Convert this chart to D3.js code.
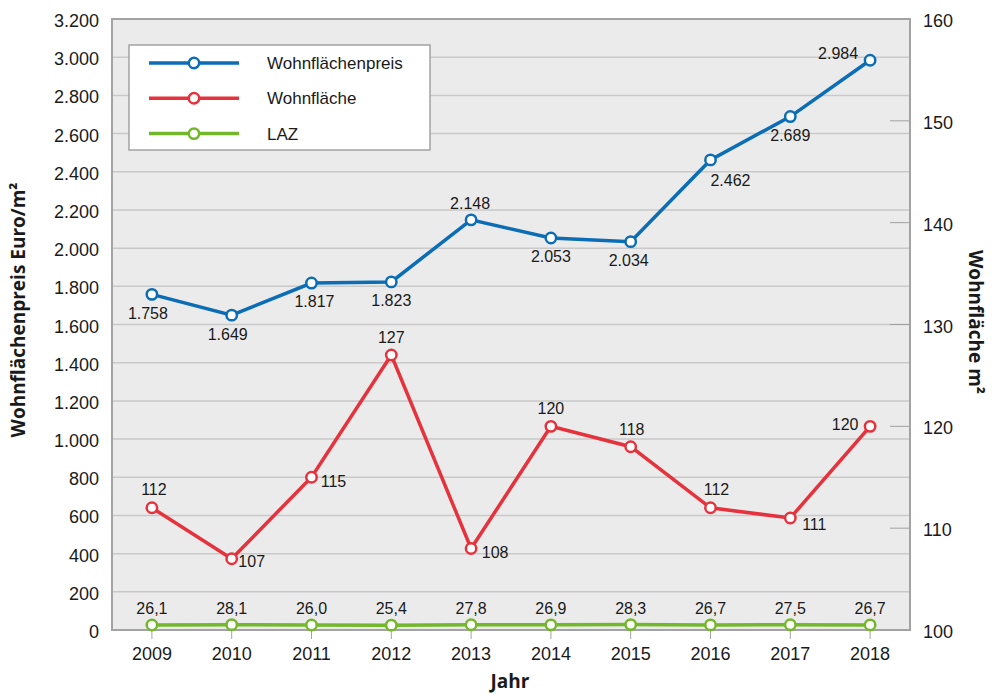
<!DOCTYPE html>
<html>
<head>
<meta charset="utf-8">
<script src="https://cdn.jsdelivr.net/npm/d3@7"></script>
<style>
  body { margin: 0; background: #fff; }
  text { font-family: "Liberation Sans", Arial, sans-serif; fill: #1a1a1a; }
  .title { font-family: "Open Sans", sans-serif; font-weight: bold; font-size: 19px; }
</style>
</head>
<body>
<div id="chart"></div>
<script>
(() => {

  let years = [2009, 2010, 2011, 2012, 2013, 2014, 2015, 2016, 2017, 2018]
  let preis = [1758, 1649, 1817, 1823, 2148, 2053, 2034, 2462, 2689, 2984]
  let flaeche = [112, 107, 115, 127, 108, 120, 118, 112, 111, 120]
  let laz = [26.1, 28.1, 26.0, 25.4, 27.8, 26.9, 28.3, 26.7, 27.5, 26.7]
  let leftTicks = d3.range(0, 3201, 200)
  let rightTicks = [100, 110, 120, 130, 140, 150, 160]

  // label placement per point: [dx, dy] of label centre
  let preisPos = [[-4,19],[-4,19],[3,18],[0,18],[-1,-17],[0,18],[-2,18],[20,20],[0,18],[-32,-7]]
  let flaechePos = [[2,-19],[20,2],[22,4],[0,-18],[24,3],[0,-18],[1,-18],[6,-19],[24,6],[-25,-2]]

  let svg = d3.select("#chart")
  .append("svg")
  .attr("width", 996)
  .attr("height", 695)

  let margin = {top: 19, right: 86, bottom: 65, left: 112}
  let width = 996 - margin.left - margin.right
  let height = 695 - margin.top - margin.bottom

  let x = d3.scalePoint()
  .domain(years)
  .range([margin.left, margin.left + width])
  .padding(0.5)

  let yL = d3.scaleLinear()
  .domain([0, 3200])
  .range([margin.top + height, margin.top])

  let yR = d3.scaleLinear()
  .domain([100, 160])
  .range([margin.top + height, margin.top])

  let fmtDE = d3.formatLocale({decimal: ",", thousands: ".", grouping: [3], currency: ["", "€"]})
  let fmtInt = fmtDE.format(",d")
  let fmt1 = fmtDE.format(".1f")

  // plot background
  svg.append("rect")
  .attr("x", margin.left)
  .attr("y", margin.top)
  .attr("width", width)
  .attr("height", height)
  .attr("fill", "#ebebeb")

  // grid
  svg.append("g")
  .selectAll("line")
  .data(leftTicks.slice(1, -1))
  .enter()
  .append("line")
  .attr("x1", margin.left)
  .attr("x2", margin.left + width)
  .attr("y1", d => yL(d))
  .attr("y2", d => yL(d))
  .attr("stroke", "#c9c9c9")
  .attr("stroke-width", 1.5)

  // right ticks inside plot
  svg.append("g")
  .selectAll("line")
  .data(rightTicks.slice(1, -1))
  .enter()
  .append("line")
  .attr("x1", margin.left + width - 20)
  .attr("x2", margin.left + width)
  .attr("y1", d => yR(d))
  .attr("y2", d => yR(d))
  .attr("stroke", "#a0a0a0")
  .attr("stroke-width", 1)

  // frame
  svg.append("rect")
  .attr("x", margin.left)
  .attr("y", margin.top)
  .attr("width", width)
  .attr("height", height)
  .attr("fill", "none")
  .attr("stroke", "#a3a3a3")
  .attr("stroke-width", 2)

  // left labels
  svg.append("g")
  .selectAll("text")
  .data(leftTicks)
  .enter()
  .append("text")
  .attr("x", 99)
  .attr("y", d => yL(d) + 8)
  .attr("text-anchor", "end")
  .style("font-size", "18px")
  .text(d => fmtInt(d))

  // right labels
  svg.append("g")
  .selectAll("text")
  .data(rightTicks)
  .enter()
  .append("text")
  .attr("x", 923)
  .attr("y", d => yR(d) + 8)
  .style("font-size", "18px")
  .text(d => d)

  // x ticks + labels
  svg.append("g")
  .selectAll("line")
  .data(years)
  .enter()
  .append("line")
  .attr("x1", d => x(d))
  .attr("x2", d => x(d))
  .attr("y1", margin.top + height + 1)
  .attr("y2", margin.top + height + 9)
  .attr("stroke", "#a3a3a3")
  .attr("stroke-width", 1)

  svg.append("g")
  .selectAll("text")
  .data(years)
  .enter()
  .append("text")
  .attr("x", d => x(d))
  .attr("y", margin.top + height + 30)
  .attr("text-anchor", "middle")
  .style("font-size", "18px")
  .text(d => d)

  // axis titles
  svg.append("text")
  .attr("class", "title")
  .attr("transform", "translate(25,310) rotate(-90)")
  .attr("text-anchor", "middle")
  .text("Wohnflächenpreis Euro/m²")

  svg.append("text")
  .attr("class", "title")
  .attr("transform", "translate(969,322) rotate(90)")
  .attr("text-anchor", "middle")
  .text("Wohnfläche m²")

  svg.append("text")
  .attr("class", "title")
  .attr("x", 510)
  .attr("y", 688)
  .attr("text-anchor", "middle")
  .text("Jahr")

  let series = [
    {name: "Wohnflächenpreis", values: preis, scale: yL, color: "#0a6db5", fmt: fmtInt, pos: preisPos},
    {name: "Wohnfläche", values: flaeche, scale: yR, color: "#e5323c", fmt: d => d, pos: flaechePos},
    {name: "LAZ", values: laz, scale: yL, color: "#73b72b", fmt: fmt1, pos: laz.map(() => [0, -17])}
  ]

  series.forEach(s => {
    let line = d3.line()
    .x((d, i) => x(years[i]))
    .y(d => s.scale(d))

    svg.append("path")
    .datum(s.values)
    .attr("d", line)
    .attr("fill", "none")
    .attr("stroke", s.color)
    .attr("stroke-width", 3.5)

    svg.append("g")
    .selectAll("circle")
    .data(s.values)
    .enter()
    .append("circle")
    .attr("cx", (d, i) => x(years[i]))
    .attr("cy", d => s.scale(d))
    .attr("r", 5.2)
    .attr("fill", "#fff")
    .attr("stroke", s.color)
    .attr("stroke-width", 2.5)

    svg.append("g")
    .selectAll("text")
    .data(s.values)
    .enter()
    .append("text")
    .attr("x", (d, i) => x(years[i]) + s.pos[i][0])
    .attr("y", (d, i) => s.scale(d) + s.pos[i][1] + 6)
    .attr("text-anchor", "middle")
    .style("font-size", "16px")
    .text(d => s.fmt(d))
  })

  // legend
  let lg = svg.append("g")
  lg.append("rect")
  .attr("x", 129)
  .attr("y", 45)
  .attr("width", 301)
  .attr("height", 105)
  .attr("fill", "#fff")
  .attr("stroke", "#a3a3a3")
  .attr("stroke-width", 1.5)

  let items = lg.selectAll(".item")
  .data(series)
  .enter()
  .append("g")
  .attr("transform", (d, i) => "translate(0," + (63 + i * 35.3) + ")")

  items.append("line")
  .attr("x1", 149)
  .attr("x2", 239)
  .attr("stroke", d => d.color)
  .attr("stroke-width", 3.5)

  items.append("circle")
  .attr("cx", 194)
  .attr("r", 5.2)
  .attr("fill", "#fff")
  .attr("stroke", d => d.color)
  .attr("stroke-width", 2.5)

  items.append("text")
  .attr("x", 267)
  .attr("y", 6)
  .style("font-size", "17px")
  .text(d => d.name)

})()
</script>
</body>
</html>
